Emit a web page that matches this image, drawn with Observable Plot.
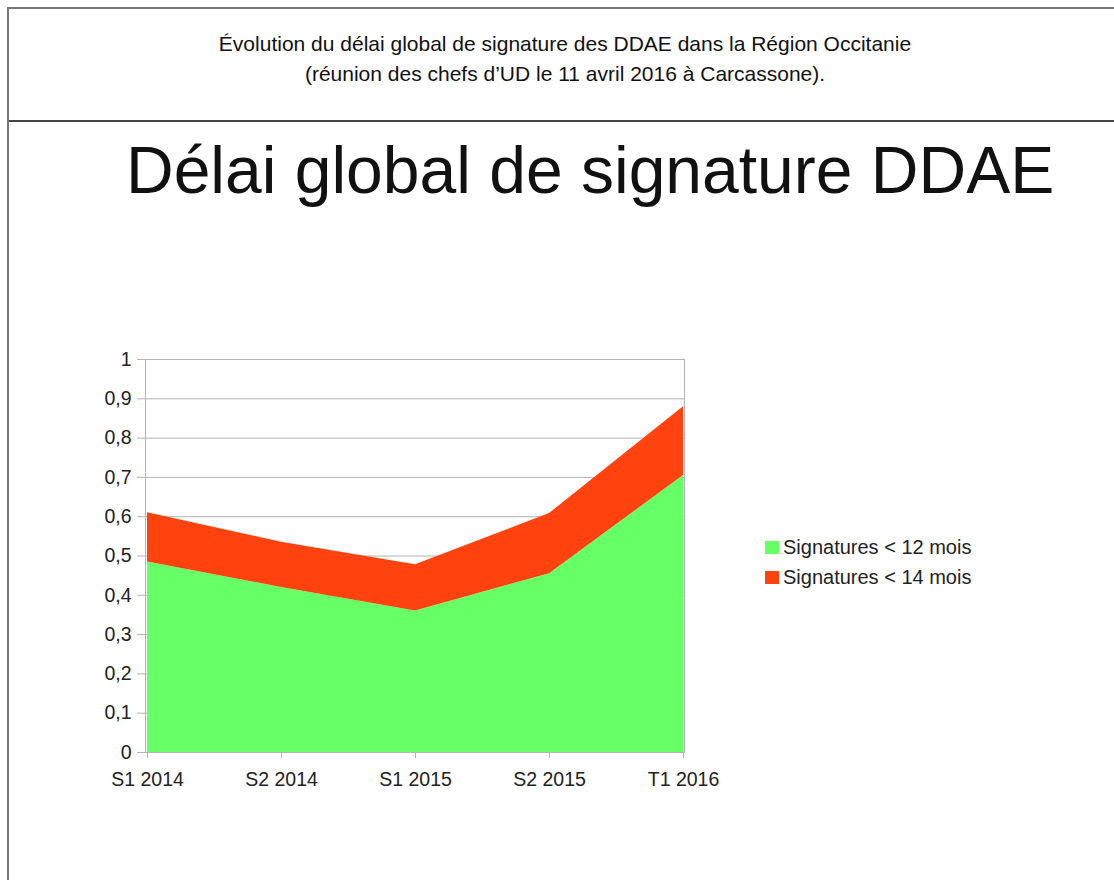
<!DOCTYPE html>
<html>
<head>
<meta charset="utf-8">
<script src="https://cdn.jsdelivr.net/npm/d3@7"></script>
<script src="https://cdn.jsdelivr.net/npm/@observablehq/plot@0.6"></script>
<style>
  html, body { margin: 0; padding: 0; background: #fff; }
  body { width: 1114px; height: 880px; position: relative; overflow: hidden; font-family: "Liberation Sans", Arial, sans-serif; }
  #frame { position: absolute; left: 7px; top: 7px; width: 1130px; height: 900px; border-left: 2px solid #777; border-top: 2px solid #777; box-sizing: border-box; }
  #header { position: absolute; left: 9px; top: 9px; width: 1128px; height: 113px; border-bottom: 2px solid #444; box-sizing: border-box; }
  #caption { position: absolute; left: 0; width: 1130px; top: 29px; text-align: center; font-size: 21px; line-height: 30px; color: #111; }
  #title { position: absolute; left: 126px; top: 130px; font-size: 66px; line-height: 80px; color: #111; white-space: nowrap; }
  #chart { position: absolute; left: 0; top: 300px; }
  #legend { position: absolute; left: 765px; top: 532px; font-size: 20px; color: #222; }
  .item { display: flex; align-items: center; height: 30px; }
  .sw { width: 14px; height: 13px; margin-right: 4px; }
</style>
</head>
<body>
<div id="frame"></div>
<div id="header"></div>
<div id="caption">Évolution du délai global de signature des DDAE dans la Région Occitanie<br>(réunion des chefs d’UD le 11 avril 2016 à Carcassone).</div>
<div id="title">Délai global de signature DDAE</div>
<div id="chart"></div>
<div id="legend"></div>
<script>
const periods = ["S1 2014", "S2 2014", "S1 2015", "S2 2015", "T1 2016"];
const under12 = [0.485, 0.42, 0.36, 0.455, 0.705];
const under14 = [0.61, 0.535, 0.478, 0.608, 0.88];
const seriesNames = ["Signatures < 12 mois", "Signatures < 14 mois"];
const seriesColors = ["#66ff66", "#ff420e"];
const yTicks = [0, 0.1, 0.2, 0.3, 0.4, 0.5, 0.6, 0.7, 0.8, 0.9, 1];
const yTickLabels = ["0", "0,1", "0,2", "0,3", "0,4", "0,5", "0,6", "0,7", "0,8", "0,9", "1"];

const data = periods.map((p, i) => ({period: p, a: under12[i], b: under14[i]}));

const chart = Plot.plot({
  width: 760,
  height: 520,
  marginLeft: 145,
  marginRight: 76,
  marginTop: 59,
  marginBottom: 68,
  style: {fontFamily: "'Liberation Sans', Arial, sans-serif", fontSize: "19.5px", color: "#222", background: "transparent"},
  x: {type: "point", domain: periods, padding: 0, label: null},
  y: {domain: [0, 1], label: null},
  marks: [
    Plot.gridY(yTicks, {stroke: "#b3b3b3", strokeOpacity: 1}),
    Plot.areaY(data, {x: "period", y1: 0, y2: "a", fill: seriesColors[0], curve: "linear"}),
    Plot.areaY(data, {x: "period", y1: "a", y2: "b", fill: seriesColors[1], curve: "linear"}),
    Plot.frame({stroke: "#b3b3b3"}),
    Plot.axisY({ticks: yTicks, tickFormat: (d, i) => yTickLabels[i], tickSize: 8, tickPadding: 6, stroke: "#b3b3b3", label: null}),
    Plot.axisX({tickSize: 6, tickPadding: 14, stroke: "#b3b3b3", label: null})
  ]
});
document.getElementById("chart").appendChild(chart);

const legend = document.getElementById("legend");
seriesNames.forEach((n, i) => {
  const row = document.createElement("div");
  row.className = "item";
  const sw = document.createElement("div");
  sw.className = "sw";
  sw.style.background = seriesColors[i];
  const t = document.createElement("span");
  t.textContent = n;
  row.appendChild(sw);
  row.appendChild(t);
  legend.appendChild(row);
});
</script>
</body>
</html>
